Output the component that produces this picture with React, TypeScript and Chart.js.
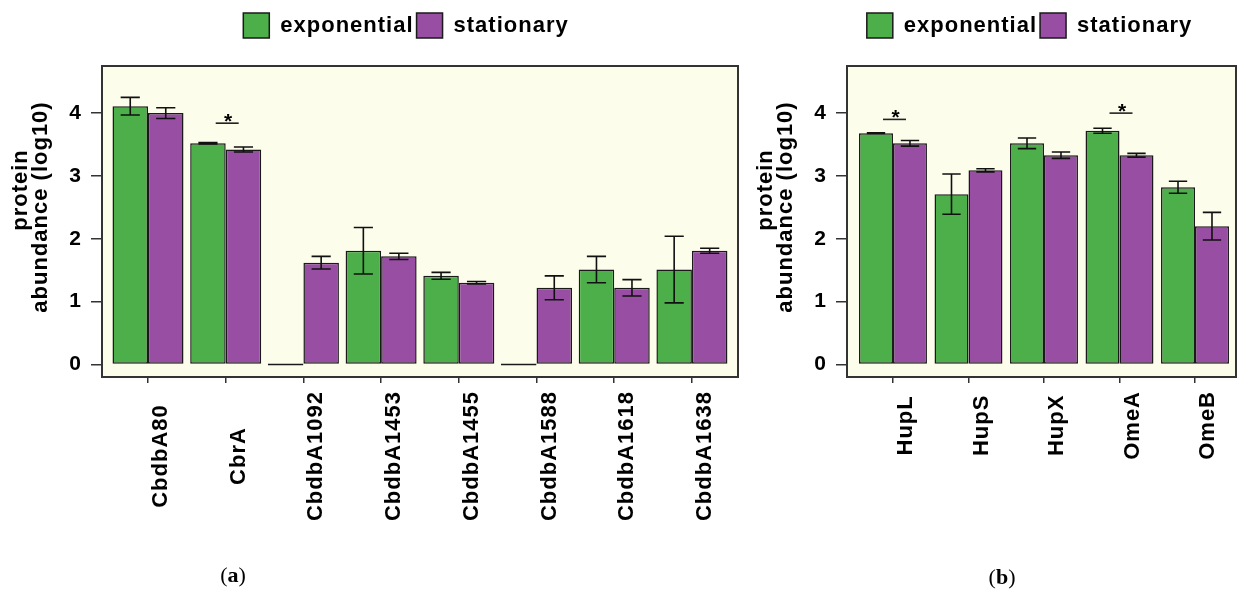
import React, { useEffect, useRef } from 'react';
import { Chart, registerables } from 'chart.js';

Chart.register(...registerables);

// ---------- data ----------
const seriesNames = ['exponential', 'stationary'];

const categoriesA = ['CbdbA80', 'CbrA', 'CbdbA1092', 'CbdbA1453', 'CbdbA1455', 'CbdbA1588', 'CbdbA1618', 'CbdbA1638'];
const expA = [4.11, 3.52, 0, 1.81, 1.41, 0, 1.51, 1.51];
const expErrA = [0.14, 0.01, 0, 0.37, 0.055, 0, 0.21, 0.53];
const statA = [4.0, 3.42, 1.62, 1.72, 1.3, 1.22, 1.22, 1.81];
const statErrA = [0.085, 0.04, 0.1, 0.05, 0.02, 0.19, 0.13, 0.04];
const sigIdxA = [1];
const sigLevelA = [3.84];

const categoriesB = ['HupL', 'HupS', 'HupX', 'OmeA', 'OmeB'];
const expB = [3.68, 2.71, 3.52, 3.72, 2.82];
const expErrB = [0.005, 0.32, 0.085, 0.04, 0.095];
const statB = [3.52, 3.09, 3.33, 3.33, 2.2];
const statErrB = [0.045, 0.025, 0.05, 0.03, 0.22];
const sigIdxB = [0, 3];
const sigLevelB = [3.9, 4.0];

const yTicks = [0, 1, 2, 3, 4];
const yTitle = ['protein', 'abundance (log10)'];

// ---------- style ----------
const FONT = "'Liberation Sans', Arial, sans-serif";
const GREEN = '#4DAF4A';
const PURPLE = '#984EA3';
const BG = '#FDFDEC';
const EDGE = '#1a1a1a';
const H = 589;
const SPACING = '1px';
// y-title line placement (x middle, y centre) in canvas coordinates
const yTitlePos = [
  { x: 21, y: 190 },
  { x: 41, y: 207 },
];

type Panel = {
  left: number;
  width: number;
  padRight: number;
  xMin: number;
  xMax: number;
  catPct: number;
  legendShift: number;
  categories: string[];
  exp: number[];
  expErr: number[];
  stat: number[];
  statErr: number[];
  sigIdx: number[];
  sigLevel: number[];
};

const panelA: Panel = {
  left: 0, width: 745, padRight: 7, xMin: -0.592, xMax: 7.593, catPct: 0.914, legendShift: 37,
  categories: categoriesA, exp: expA, expErr: expErrA, stat: statA, statErr: statErrA,
  sigIdx: sigIdxA, sigLevel: sigLevelA,
};
const panelB: Panel = {
  left: 745, width: 492, padRight: 1, xMin: -0.609, xMax: 4.543, catPct: 0.9, legendShift: 39,
  categories: categoriesB, exp: expB, expErr: expErrB, stat: statB, statErr: statErrB,
  sigIdx: sigIdxB, sigLevel: sigLevelB,
};

function makePlugin(p: Panel) {
  const errs = [p.expErr, p.statErr];
  const vals = [p.exp, p.stat];
  return {
    id: 'panelDeco',
    afterInit(chart: any) {
      const lg = chart.legend;
      if (lg && !lg.__patched) {
        const orig = lg.fit.bind(lg);
        lg.fit = function () {
          orig();
          this.height = 56;
        };
        lg.__patched = true;
      }
    },
    beforeLayout(chart: any) {
      chart.ctx.letterSpacing = SPACING;
    },
    afterLayout(chart: any) {
      const lg = chart.legend;
      if (lg) {
        lg.left += p.legendShift;
        lg.right += p.legendShift;
      }
    },
    beforeDraw(chart: any) {
      const ctx = chart.ctx;
      ctx.letterSpacing = SPACING;
      const { left, top, right, bottom } = chart.chartArea;
      ctx.save();
      ctx.fillStyle = BG;
      ctx.fillRect(left, top, right - left, bottom - top);
      ctx.restore();
    },
    afterDatasetsDraw(chart: any) {
      const ctx = chart.ctx;
      const ys = chart.scales.y;
      const xs = chart.scales.x;
      ctx.save();
      // error bars
      ctx.strokeStyle = '#111';
      ctx.lineWidth = 1.6;
      for (let d = 0; d < 2; d++) {
        const meta = chart.getDatasetMeta(d);
        meta.data.forEach((el: any, i: number) => {
          const e = errs[d][i];
          if (!e) return;
          const v = vals[d][i];
          const yHi = ys.getPixelForValue(v + e);
          const yLo = ys.getPixelForValue(v - e);
          const cap = el.width * 0.27;
          ctx.beginPath();
          ctx.moveTo(el.x, yHi);
          ctx.lineTo(el.x, yLo);
          ctx.moveTo(el.x - cap, yHi);
          ctx.lineTo(el.x + cap, yHi);
          ctx.moveTo(el.x - cap, yLo);
          ctx.lineTo(el.x + cap, yLo);
          ctx.stroke();
        });
      }
      // significance marks
      ctx.strokeStyle = '#222';
      ctx.fillStyle = '#000';
      ctx.font = `bold 21px ${FONT}`;
      ctx.textAlign = 'center';
      ctx.textBaseline = 'alphabetic';
      p.sigIdx.forEach((ci, k) => {
        const x = xs.getPixelForValue(ci);
        const y = ys.getPixelForValue(p.sigLevel[k]);
        ctx.beginPath();
        ctx.moveTo(x - 10, y);
        ctx.lineTo(x + 13, y);
        ctx.stroke();
        ctx.fillText('*', x + 3, y + 5);
      });
      // frame
      const { left, top, right, bottom } = chart.chartArea;
      ctx.strokeStyle = '#333';
      ctx.lineWidth = 2;
      ctx.strokeRect(left, top, right - left, bottom - top);
      ctx.restore();
    },
    afterDraw(chart: any) {
      const ctx = chart.ctx;
      const xs = chart.scales.x;
      ctx.save();
      ctx.font = `bold 22px ${FONT}`;
      ctx.letterSpacing = SPACING;
      ctx.fillStyle = '#000';
      // category labels, rotated and centred as one block under the axis
      const maxW = Math.max(...p.categories.map((c) => ctx.measureText(c).width));
      const cy = 391 + maxW / 2;
      p.categories.forEach((c, i) => {
        const x = xs.getPixelForValue(i) + 13;
        ctx.save();
        ctx.translate(x, cy);
        ctx.rotate(-Math.PI / 2);
        ctx.textAlign = 'center';
        ctx.textBaseline = 'middle';
        ctx.fillText(c, 0, 0);
        ctx.restore();
      });
      // y-axis title
      yTitle.forEach((line, k) => {
        ctx.save();
        ctx.translate(yTitlePos[k].x, yTitlePos[k].y);
        ctx.rotate(-Math.PI / 2);
        ctx.textAlign = 'center';
        ctx.textBaseline = 'middle';
        ctx.fillText(line, 0, 0);
        ctx.restore();
      });
      ctx.restore();
    },
  };
}

function ChartPanel({ p }: { p: Panel }) {
  const ref = useRef<HTMLCanvasElement>(null);
  useEffect(() => {
    if (!ref.current) return;
    const labelFont = { family: FONT, size: 22, weight: 'bold' as const };
    const tickFont = { family: FONT, size: 21, weight: 'bold' as const };
    const chart = new Chart(ref.current, {
      type: 'bar',
      data: {
        datasets: [
          {
            label: seriesNames[0],
            data: p.exp.map((y, i) => ({ x: i, y })),
            backgroundColor: GREEN,
            borderColor: EDGE,
            borderWidth: 1.5,
            borderSkipped: false,
            minBarLength: 2,
            barPercentage: 1,
            categoryPercentage: p.catPct,
          },
          {
            label: seriesNames[1],
            data: p.stat.map((y, i) => ({ x: i, y })),
            backgroundColor: PURPLE,
            borderColor: EDGE,
            borderWidth: 1.5,
            borderSkipped: false,
            minBarLength: 2,
            barPercentage: 1,
            categoryPercentage: p.catPct,
          },
        ],
      } as any,
      options: {
        responsive: false,
        animation: false,
        layout: { padding: { top: 10, left: 0, right: p.padRight, bottom: 0 } },
        plugins: {
          legend: {
            position: 'top',
            labels: {
              font: labelFont,
              color: '#000',
              boxWidth: 26,
              boxHeight: 25,
              padding: 3,
            },
          },
          tooltip: { enabled: false },
        },
        scales: {
          x: {
            type: 'linear',
            min: p.xMin,
            max: p.xMax,
            offset: false,
            grid: {
              display: true,
              drawOnChartArea: false,
              drawTicks: true,
              tickLength: 6,
              color: '#333',
              lineWidth: 1.5,
              offset: false,
            },
            border: { display: false },
            ticks: { stepSize: 1, includeBounds: false, display: false },
            afterFit: (s: any) => {
              s.height = H - 377;
            },
          },
          y: {
            type: 'linear',
            min: -0.2,
            max: 4.75,
            grid: { drawOnChartArea: false, tickLength: 11, color: '#333', lineWidth: 1.5 },
            border: { display: false },
            afterBuildTicks: (s: any) => {
              s.ticks = yTicks.map((v) => ({ value: v }));
            },
            ticks: { font: tickFont, color: '#000', padding: 9 },
            title: { display: false },
            afterFit: (s: any) => {
              s.width = 102;
            },
          },
        },
      } as any,
      plugins: [makePlugin(p) as any],
    });
    return () => chart.destroy();
  }, [p]);
  return (
    <canvas
      ref={ref}
      width={p.width}
      height={H}
      style={{ position: 'absolute', left: p.left, top: 0, width: p.width, height: H }}
    />
  );
}

const captionStyle: React.CSSProperties = {
  position: 'absolute',
  width: 60,
  textAlign: 'center',
  fontFamily: "'Liberation Serif', 'DejaVu Serif', serif",
  fontSize: 22,
  lineHeight: '24px',
  color: '#000',
};

export default function App() {
  return (
    <div style={{ position: 'absolute', left: 0, top: 0, width: 1237, height: H, background: '#fff', overflow: 'hidden' }}>
      <ChartPanel p={panelA} />
      <ChartPanel p={panelB} />
      <div style={{ ...captionStyle, left: 233 - 30, top: 563 }}>
        (<b>a</b>)
      </div>
      <div style={{ ...captionStyle, left: 1002 - 30, top: 565 }}>
        (<b>b</b>)
      </div>
    </div>
  );
}
